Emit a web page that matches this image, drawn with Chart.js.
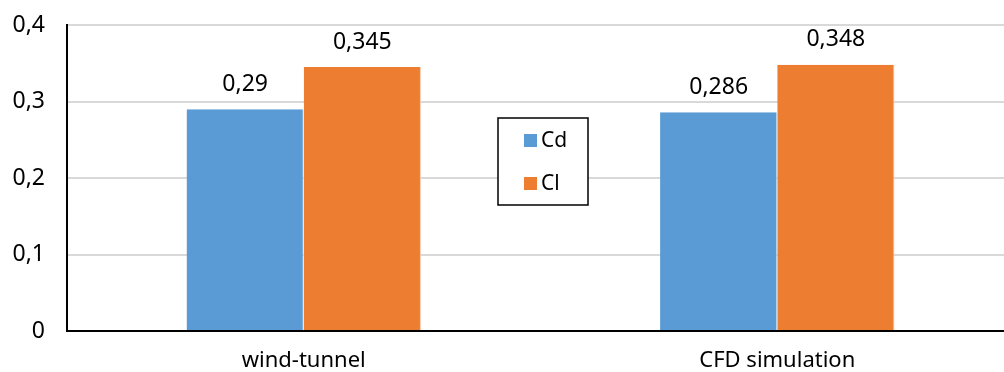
<!DOCTYPE html>
<html>
<head>
<meta charset="utf-8">
<script src="https://cdn.jsdelivr.net/npm/chart.js@4/dist/chart.umd.min.js"></script>
<style>
  html, body { margin: 0; padding: 0; background: #fff; overflow: hidden; }
  #wrap { width: 1004px; height: 372px; overflow: hidden; position: relative; }
  #box { width: 1016px; height: 372px; position: absolute; left: 0; top: 0; }
</style>
</head>
<body>
<div id="wrap"><div id="box"><canvas id="c"></canvas></div></div>
<script>
// Drag (Cd) and lift (Cl) coefficients: wind tunnel vs CFD
const categories = ['wind-tunnel', 'CFD simulation'];
const seriesNames = ['Cd', 'Cl'];
const cdValues = [0.29, 0.286];
const clValues = [0.345, 0.348];
const yTicks = [0, 0.1, 0.2, 0.3, 0.4];

const FONT = '"Noto Sans", sans-serif';
const fmt = v => String(v).replace('.', ',');

// value labels above each bar
const valueLabels = {
  id: 'valueLabels',
  afterDatasetsDraw(chart) {
    const ctx = chart.ctx;
    ctx.save();
    ctx.font = '23px ' + FONT;
    ctx.fillStyle = '#000';
    ctx.textAlign = 'center';
    ctx.textBaseline = 'middle';
    chart.data.datasets.forEach((ds, i) => {
      chart.getDatasetMeta(i).data.forEach((bar, j) => {
        ctx.fillText(fmt(ds.data[j]), bar.x, bar.y - 25);
      });
    });
    ctx.restore();
  }
};

// boxed legend placed inside the plot between the groups
const boxedLegend = {
  id: 'boxedLegend',
  afterDraw(chart) {
    const ctx = chart.ctx;
    const x0 = 498, y0 = 118, w = 90, h = 87;
    ctx.save();
    ctx.fillStyle = '#fff';
    ctx.fillRect(x0, y0, w, h);
    ctx.strokeStyle = '#000';
    ctx.lineWidth = 1.5;
    ctx.strokeRect(x0, y0, w, h);
    ctx.font = '21px ' + FONT;
    ctx.textAlign = 'left';
    ctx.textBaseline = 'middle';
    chart.data.datasets.forEach((ds, i) => {
      const sy = 134 + i * 43;
      ctx.fillStyle = ds.backgroundColor;
      ctx.fillRect(524, sy, 13, 13);
      ctx.fillStyle = '#000';
      ctx.fillText(ds.label, 541, sy + 7);
    });
    ctx.restore();
  }
};

new Chart(document.getElementById('c'), {
  type: 'bar',
  data: {
    labels: categories,
    datasets: [
      { label: seriesNames[0], data: cdValues, backgroundColor: '#5B9BD5', borderColor: '#c9dcef', borderWidth: { right: 1 } },
      { label: seriesNames[1], data: clValues, backgroundColor: '#ED7D31', borderColor: '#f4c7a8', borderWidth: { right: 1 } }
    ]
  },
  options: {
    responsive: true,
    maintainAspectRatio: false,
    animation: false,
    layout: { padding: { top: 25, right: 2, left: 0, bottom: 0 } },
    datasets: { bar: { categoryPercentage: 0.495, barPercentage: 1.0 } },
    plugins: { legend: { display: false }, tooltip: { enabled: false } },
    scales: {
      x: {
        grid: { display: false },
        border: { display: true, color: '#000', width: 2 },
        ticks: { color: '#000', font: { family: FONT, size: 22 }, padding: 9 },
        afterFit(s) { s.height = 41; s.paddingLeft = 0; s.paddingRight = 0; }
      },
      y: {
        min: 0, max: 0.4,
        afterBuildTicks(s) { s.ticks = yTicks.map(v => ({ value: v })); },
        grid: { color: '#d9d9d9', lineWidth: 2, drawTicks: false },
        border: { display: true, color: '#000', width: 2 },
        ticks: {
          color: '#000', font: { family: FONT, size: 23 }, padding: 22,
          callback: v => fmt(v)
        },
        afterFit(s) { s.width = 67; s.paddingTop = 0; s.paddingBottom = 0; }
      }
    }
  },
  plugins: [valueLabels, boxedLegend]
});
</script>
</body>
</html>
